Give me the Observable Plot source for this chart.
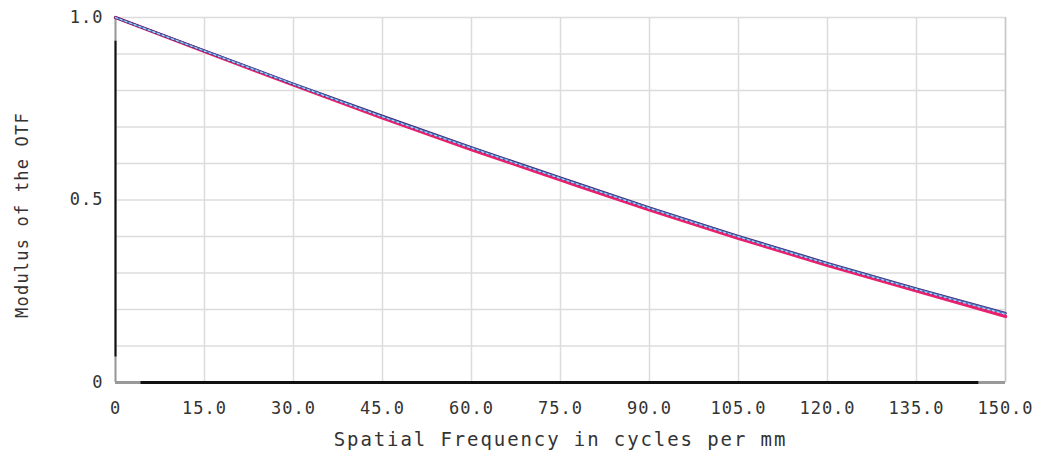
<!DOCTYPE html>
<html>
<head>
<meta charset="utf-8">
<script src="https://cdn.jsdelivr.net/npm/d3@7"></script>
<script src="https://cdn.jsdelivr.net/npm/@observablehq/plot@0.6"></script>
<style>
  html, body { margin: 0; padding: 0; background: #fff; }
  #chart svg { display: block; }
</style>
</head>
<body>
<div id="chart"></div>
<script>
// Spatial frequency samples (cycles per mm)
const freqs = [0, 15, 30, 45, 60, 75, 90, 105, 120, 135, 150];
// MTF series
const navyMTF    = [1.000, 0.909, 0.818, 0.730, 0.644, 0.561, 0.479, 0.401, 0.327, 0.257, 0.190];
const blueMTF    = [1.000, 0.909, 0.818, 0.729, 0.643, 0.560, 0.478, 0.400, 0.326, 0.256, 0.189];
const cyanMTF    = [1.000, 0.908, 0.817, 0.728, 0.642, 0.559, 0.477, 0.399, 0.325, 0.255, 0.187];
const magentaMTF = [1.000, 0.907, 0.815, 0.725, 0.638, 0.555, 0.473, 0.395, 0.321, 0.251, 0.181];
const xTicks = [0, 15, 30, 45, 60, 75, 90, 105, 120, 135, 150];
const yTicks = [0, 0.5, 1.0];
const yGrid  = [0, 0.1, 0.2, 0.3, 0.4, 0.5, 0.6, 0.7, 0.8, 0.9, 1.0];

const toRows = (vals, s) => freqs.map((f, i) => ({f, v: vals[i], s}));
const cyan = toRows(cyanMTF, "cyan");
const blue = toRows(blueMTF, "blue");
const navy = toRows(navyMTF, "navy");
const magenta = toRows(magentaMTF, "magenta");

const mono = "DejaVu Sans Mono, monospace";
const fmt = d => d === 0 ? "0" : d.toFixed(1);

const chart = Plot.plot({
  width: 1039,
  height: 455,
  marginLeft: 115,
  marginRight: 34,
  marginTop: 17,
  marginBottom: 73,
  style: {background: "#fff", fontFamily: mono},
  x: {domain: [0, 150]},
  y: {domain: [0, 1]},
  marks: [
    Plot.gridX(xTicks, {stroke: "#dcdcdc", strokeOpacity: 1, strokeWidth: 1.5}),
    Plot.gridY(yGrid, {stroke: "#dcdcdc", strokeOpacity: 1, strokeWidth: 1.5}),
    // frame
    Plot.ruleX([150], {stroke: "#c8c8c8", strokeWidth: 1.5}),
    Plot.ruleX([0], {stroke: "#999", strokeWidth: 2}),
    Plot.ruleY([0], {stroke: "#999", strokeWidth: 3}),
    Plot.ruleX([0], {y1: 0.07, y2: 0.935, stroke: "#111", strokeWidth: 2}),
    Plot.ruleY([0], {x1: 4.3, x2: 145.5, stroke: "#111", strokeWidth: 3}),
    Plot.axisX(xTicks, {tickSize: 0, tickPadding: 19, tickFormat: fmt, fontSize: 17, fontFamily: mono, fill: "#333",
      label: null}),
    Plot.axisY(yTicks, {tickSize: 0, tickPadding: 12, tickFormat: fmt, fontSize: 17, fontFamily: mono, fill: "#333",
      label: null}),
    Plot.text(["Spatial Frequency in cycles per mm"], {frameAnchor: "bottom", dy: 63, fontSize: 19, fontFamily: mono, fill: "#333"}),
    Plot.text(["Modulus of the OTF"], {frameAnchor: "left", textAnchor: "middle", dx: -93, dy: 15, rotate: -90, fontSize: 17, fontFamily: mono, fill: "#333"}),
    // MTF curves
    Plot.line(magenta, {x: "f", y: "v", stroke: "#e8206e", strokeWidth: 3.4, curve: "natural"}),
    Plot.line(navy, {x: "f", y: "v", stroke: "#3a2a70", strokeWidth: 2.6, curve: "natural"}),
    Plot.line(blue, {x: "f", y: "v", stroke: "#5577cc", strokeWidth: 1.6, curve: "natural"}),
    Plot.line(cyan, {x: "f", y: "v", stroke: "#a8dcf0", strokeWidth: 1.2, strokeDasharray: "2,3", curve: "natural"})
  ]
});
document.getElementById("chart").append(chart);
// letter spacing to mimic the wide monospaced font
chart.querySelectorAll("g[aria-label='x-axis tick label'] text, g[aria-label='y-axis tick label'] text").forEach(t => t.setAttribute("letter-spacing", "1"));
chart.querySelectorAll("g[aria-label='text'] text").forEach(t => {
  if (t.textContent.startsWith("Spatial")) t.setAttribute("letter-spacing", "1.9");
  else t.setAttribute("letter-spacing", "1.2");
});
</script>
</body>
</html>
